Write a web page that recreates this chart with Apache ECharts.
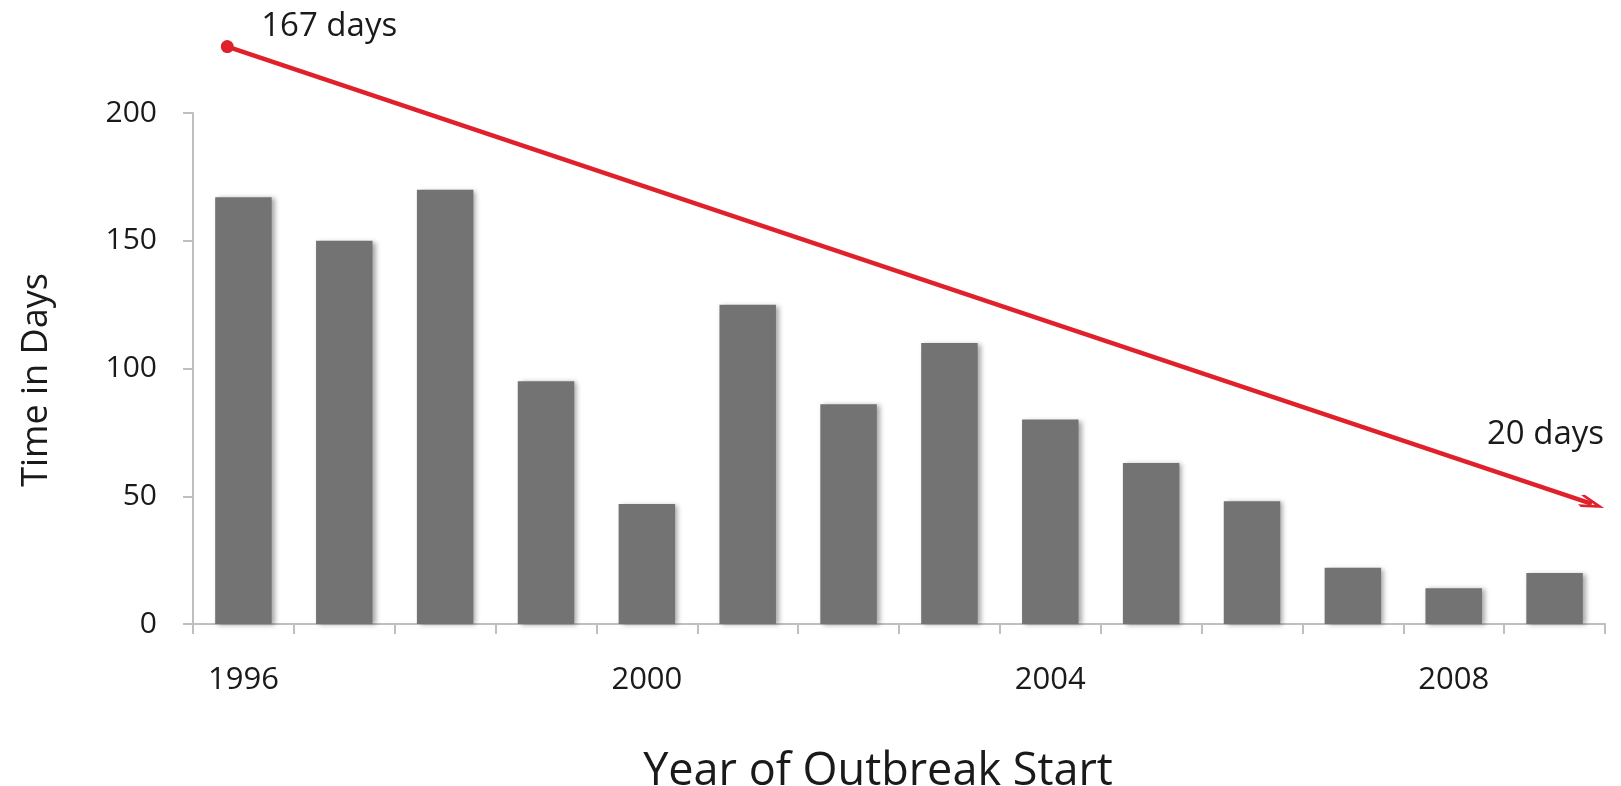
<!DOCTYPE html>
<html>
<head>
<meta charset="utf-8">
<script src="https://cdn.jsdelivr.net/npm/echarts@6/dist/echarts.min.js"></script>
<style>html,body{margin:0;padding:0;background:#fff}#c{width:1621px;height:786px}</style>
</head>
<body>
<div id="c"></div>
<script>
var years = ['1996','1997','1998','1999','2000','2001','2002','2003','2004','2005','2006','2007','2008','2009'];
var days = [167, 150, 170, 95, 47, 125, 86, 110, 80, 63, 48, 22, 14, 20];
var yTicks = [0, 50, 100, 150, 200];
var trendStart = [-0.16, 226];
var trendEnd = [13.37, 47];
var startLabel = '167 days';
var endLabel = '20 days';
var startLabelAt = [0.85, 234];
var endLabelAt = [12.91, 74];

var font = 'Open Sans';
var chart = echarts.init(document.getElementById('c'));
chart.setOption({
  animation: false,
  backgroundColor: '#fff',
  grid: [
    { left: 193, right: 16, top: 113, bottom: 162, containLabel: false, outerBoundsMode: 'none' },
    { left: 193, right: 16, top: -14.75, bottom: 162, containLabel: false, outerBoundsMode: 'none' }
  ],
  xAxis: [{
    type: 'category',
    gridIndex: 0,
    data: years,
    boundaryGap: true,
    name: 'Year of Outbreak Start',
    nameLocation: 'middle',
    nameGap: 126,
    nameTextStyle: { fontFamily: font, fontSize: 45, color: '#1a1a1a', padding: [0, 42, 0, 0] },
    axisLine: { show: true, lineStyle: { color: '#bfbfbf', width: 2 } },
    axisTick: { show: true, interval: 0, length: 10, lineStyle: { color: '#bfbfbf', width: 2 } },
    axisLabel: { interval: 3, margin: 41, fontFamily: font, fontSize: 31, color: '#1a1a1a' },
    splitLine: { show: false }
  }, {
    type: 'value',
    gridIndex: 1,
    min: -0.5, max: 13.5,
    show: false
  }],
  yAxis: [{
    type: 'value',
    gridIndex: 0,
    min: 0, max: 200, interval: 50,
    name: 'Time in Days',
    nameLocation: 'middle',
    nameGap: 138,
    nameRotate: 90,
    nameTextStyle: { fontFamily: font, fontSize: 36, color: '#1a1a1a', padding: [0, 23, 0, 0] },
    axisLine: { show: true, onZero: false, lineStyle: { color: '#bfbfbf', width: 2 } },
    axisTick: { show: true, length: 10, lineStyle: { color: '#bfbfbf', width: 2 } },
    axisLabel: { margin: 36, fontFamily: font, fontSize: 30, color: '#1a1a1a' },
    splitLine: { show: false }
  }, {
    type: 'value',
    gridIndex: 1,
    min: 0, max: 250,
    show: false
  }],
  series: [{
    type: 'bar',
    data: days,
    barWidth: '56%',
    itemStyle: { color: '#737373', shadowBlur: 5, shadowOffsetX: 3, shadowOffsetY: 1, shadowColor: 'rgba(0,0,0,0.35)' },
    silent: true
  }, {
    type: 'line',
    xAxisIndex: 1,
    yAxisIndex: 1,
    data: [],
    clip: false,
    silent: true,
    markLine: {
      silent: true,
      animation: false,
      symbol: ['circle', 'path://M5,0 L10,8 L8.7,9.2 L5,3.5 L1.3,9.2 L0,8 Z'],
      symbolSize: [13, 26],
      lineStyle: { color: '#e0202a', width: 4.5, type: 'solid', opacity: 1 },
      itemStyle: { color: '#e0202a' },
      label: { show: false },
      data: [[{ coord: trendStart }, { coord: trendEnd }]]
    },
    markPoint: {
      silent: true,
      animation: false,
      symbol: 'circle',
      symbolSize: 0,
      label: { show: true, position: 'inside', fontFamily: font, fontSize: 33, color: '#1a1a1a',
        formatter: function (p) { return p.name; } },
      data: [
        { name: startLabel, coord: startLabelAt },
        { name: endLabel, coord: endLabelAt }
      ]
    }
  }]
});
</script>
</body>
</html>
